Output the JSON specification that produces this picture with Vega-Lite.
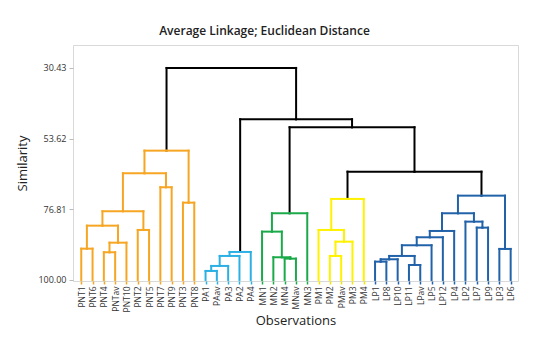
{
  "$schema": "https://vega.github.io/schema/vega-lite/v6.json",
  "width": 445,
  "height": 236,
  "autosize": "none",
  "padding": {"left": 73, "top": 45, "right": 32, "bottom": 72},
  "background": "white",
  "title": {"text": "Average Linkage; Euclidean Distance", "frame": "group", "anchor": "middle", "dx": -31, "offset": 7, "fontSize": 12, "font": "Open Sans", "fontWeight": 600, "color": "#222"},
  "config": {
    "view": {"stroke": "#d9d9d9", "strokeWidth": 1},
    "font": "Open Sans"
  },
  "data": {"values": [
    {"px": 2.5, "ph": 90.92, "cx": 2, "ch": 100, "c": "O"},
    {"px": 2.5, "ph": 90.92, "cx": 3, "ch": 100, "c": "O"},
    {"px": 0.5, "ph": 89.74, "cx": 0, "ch": 100, "c": "O"},
    {"px": 0.5, "ph": 89.74, "cx": 1, "ch": 100, "c": "O"},
    {"px": 3.25, "ph": 87.77, "cx": 2.5, "ch": 90.92, "c": "O"},
    {"px": 3.25, "ph": 87.77, "cx": 4, "ch": 100, "c": "O"},
    {"px": 5.5, "ph": 83.6, "cx": 5, "ch": 100, "c": "O"},
    {"px": 5.5, "ph": 83.6, "cx": 6, "ch": 100, "c": "O"},
    {"px": 1.875, "ph": 82.19, "cx": 0.5, "ch": 89.74, "c": "O"},
    {"px": 1.875, "ph": 82.19, "cx": 3.25, "ch": 87.77, "c": "O"},
    {"px": 3.6875, "ph": 77.46, "cx": 1.875, "ch": 82.19, "c": "O"},
    {"px": 3.6875, "ph": 77.46, "cx": 5.5, "ch": 83.6, "c": "O"},
    {"px": 7.5, "ph": 69.58, "cx": 7, "ch": 100, "c": "O"},
    {"px": 7.5, "ph": 69.58, "cx": 8, "ch": 100, "c": "O"},
    {"px": 9.5, "ph": 74.64, "cx": 9, "ch": 100, "c": "O"},
    {"px": 9.5, "ph": 74.64, "cx": 10, "ch": 100, "c": "O"},
    {"px": 5.594, "ph": 64.99, "cx": 3.6875, "ch": 77.46, "c": "O"},
    {"px": 5.594, "ph": 64.99, "cx": 7.5, "ch": 69.58, "c": "O"},
    {"px": 7.547, "ph": 57.57, "cx": 5.594, "ch": 64.99, "c": "O"},
    {"px": 7.547, "ph": 57.57, "cx": 9.5, "ch": 74.64, "c": "O"},
    {"px": 11.5, "ph": 97.05, "cx": 11, "ch": 100, "c": "C"},
    {"px": 11.5, "ph": 97.05, "cx": 12, "ch": 100, "c": "C"},
    {"px": 12.25, "ph": 95.41, "cx": 11.5, "ch": 97.05, "c": "C"},
    {"px": 12.25, "ph": 95.41, "cx": 13, "ch": 100, "c": "C"},
    {"px": 13.125, "ph": 92.13, "cx": 12.25, "ch": 95.41, "c": "C"},
    {"px": 13.125, "ph": 92.13, "cx": 14, "ch": 100, "c": "C"},
    {"px": 14.0625, "ph": 90.82, "cx": 13.125, "ch": 92.13, "c": "C"},
    {"px": 14.0625, "ph": 90.82, "cx": 15, "ch": 100, "c": "C"},
    {"px": 18.5, "ph": 93.01, "cx": 18, "ch": 100, "c": "G"},
    {"px": 18.5, "ph": 93.01, "cx": 19, "ch": 100, "c": "G"},
    {"px": 17.75, "ph": 92.56, "cx": 17, "ch": 100, "c": "G"},
    {"px": 17.75, "ph": 92.56, "cx": 18.5, "ch": 93.01, "c": "G"},
    {"px": 16.875, "ph": 84.15, "cx": 16, "ch": 100, "c": "G"},
    {"px": 16.875, "ph": 84.15, "cx": 17.75, "ch": 92.56, "c": "G"},
    {"px": 18.4375, "ph": 78.12, "cx": 16.875, "ch": 84.15, "c": "G"},
    {"px": 18.4375, "ph": 78.12, "cx": 20, "ch": 100, "c": "G"},
    {"px": 22.5, "ph": 92.13, "cx": 22, "ch": 100, "c": "Y"},
    {"px": 22.5, "ph": 92.13, "cx": 23, "ch": 100, "c": "Y"},
    {"px": 23.25, "ph": 87.44, "cx": 22.5, "ch": 92.13, "c": "Y"},
    {"px": 23.25, "ph": 87.44, "cx": 24, "ch": 100, "c": "Y"},
    {"px": 22.125, "ph": 83.6, "cx": 21, "ch": 100, "c": "Y"},
    {"px": 22.125, "ph": 83.6, "cx": 23.25, "ch": 87.44, "c": "Y"},
    {"px": 23.5625, "ph": 73.42, "cx": 22.125, "ch": 83.6, "c": "Y"},
    {"px": 23.5625, "ph": 73.42, "cx": 25, "ch": 100, "c": "Y"},
    {"px": 26.5, "ph": 94.0, "cx": 26, "ch": 100, "c": "B"},
    {"px": 26.5, "ph": 94.0, "cx": 27, "ch": 100, "c": "B"},
    {"px": 27.25, "ph": 93.22, "cx": 26.5, "ch": 94.0, "c": "B"},
    {"px": 27.25, "ph": 93.22, "cx": 28, "ch": 100, "c": "B"},
    {"px": 29.5, "ph": 95.09, "cx": 29, "ch": 100, "c": "B"},
    {"px": 29.5, "ph": 95.09, "cx": 30, "ch": 100, "c": "B"},
    {"px": 28.375, "ph": 92.13, "cx": 27.25, "ch": 93.22, "c": "B"},
    {"px": 28.375, "ph": 92.13, "cx": 29.5, "ch": 95.09, "c": "B"},
    {"px": 29.6875, "ph": 88.62, "cx": 28.375, "ch": 92.13, "c": "B"},
    {"px": 29.6875, "ph": 88.62, "cx": 31, "ch": 100, "c": "B"},
    {"px": 30.844, "ph": 86.0, "cx": 29.6875, "ch": 88.62, "c": "B"},
    {"px": 30.844, "ph": 86.0, "cx": 32, "ch": 100, "c": "B"},
    {"px": 31.922, "ph": 83.93, "cx": 30.844, "ch": 86.0, "c": "B"},
    {"px": 31.922, "ph": 83.93, "cx": 33, "ch": 100, "c": "B"},
    {"px": 35.5, "ph": 82.84, "cx": 35, "ch": 100, "c": "B"},
    {"px": 35.5, "ph": 82.84, "cx": 36, "ch": 100, "c": "B"},
    {"px": 34.75, "ph": 80.87, "cx": 34, "ch": 100, "c": "B"},
    {"px": 34.75, "ph": 80.87, "cx": 35.5, "ch": 82.84, "c": "B"},
    {"px": 33.336, "ph": 78.12, "cx": 31.922, "ch": 83.93, "c": "B"},
    {"px": 33.336, "ph": 78.12, "cx": 34.75, "ch": 80.87, "c": "B"},
    {"px": 37.5, "ph": 89.83, "cx": 37, "ch": 100, "c": "B"},
    {"px": 37.5, "ph": 89.83, "cx": 38, "ch": 100, "c": "B"},
    {"px": 35.418, "ph": 72.34, "cx": 33.336, "ch": 78.12, "c": "B"},
    {"px": 35.418, "ph": 72.34, "cx": 37.5, "ch": 89.83, "c": "B"},
    {"px": 29.49, "ph": 64.46, "cx": 23.5625, "ch": 73.42, "c": "K"},
    {"px": 29.49, "ph": 64.46, "cx": 35.418, "ch": 72.34, "c": "K"},
    {"px": 23.964, "ph": 49.89, "cx": 18.4375, "ch": 78.12, "c": "K"},
    {"px": 23.964, "ph": 49.89, "cx": 29.49, "ch": 64.46, "c": "K"},
    {"px": 19.013, "ph": 47.27, "cx": 14.0625, "ch": 90.82, "c": "K"},
    {"px": 19.013, "ph": 47.27, "cx": 23.964, "ch": 49.89, "c": "K"},
    {"px": 13.28, "ph": 30.43, "cx": 7.547, "ch": 57.57, "c": "K"},
    {"px": 13.28, "ph": 30.43, "cx": 19.013, "ch": 47.27, "c": "K"}
  ]},
  "encoding": {
    "x": {"field": "cx", "type": "quantitative",
      "scale": {"domain": [-0.73, 38.65], "nice": false, "zero": false},
      "axis": {
        "title": "Observations", "titleFontSize": 13, "titleFontWeight": "normal", "titleColor": "#222", "titlePadding": 3,
        "values": [0,1,2,3,4,5,6,7,8,9,10,11,12,13,14,15,16,17,18,19,20,21,22,23,24,25,26,27,28,29,30,31,32,33,34,35,36,37,38],
        "labelExpr": "['PNT1','PNT6','PNT4','PNTav','PNT10','PNT2','PNT5','PNT7','PNT9','PNT3','PNT8','PA1','PAav','PA3','PA2','PA4','MN1','MN2','MN4','MNav','MN3','PM1','PM2','PMav','PM3','PM4','LP1','LP8','LP10','LP11','LPav','LP5','LP12','LP4','LP2','LP7','LP9','LP3','LP6'][datum.value]",
        "labelAngle": -90, "labelFontSize": 8.5, "labelColor": "#333", "labelPadding": 2,
        "labelOverlap": false, "labelFlush": false, "labelBound": false,
        "domain": false, "grid": false, "tickSize": 3, "tickWidth": 1.5,
        "tickColor": {"expr": "datum.value <= 10 ? '#F6A623' : datum.value <= 15 ? '#2CB0E3' : datum.value <= 20 ? '#1BAA4A' : datum.value <= 25 ? '#F2E600' : '#2162A9'"}
      }
    },
    "y": {"field": "ch", "type": "quantitative",
      "scale": {"domain": [22.9, 100.35], "reverse": true, "nice": false, "zero": false},
      "axis": {
        "title": "Similarity", "titleFontSize": 13, "titleFontWeight": "normal", "titleColor": "#222", "titlePadding": 8,
        "values": [30.43, 53.62, 76.81, 100], "format": ".2f",
        "labelFontSize": 9, "labelColor": "#333", "labelPadding": 3,
        "domain": false, "grid": false, "tickSize": 4, "tickColor": "#bbb"
      }
    },
    "color": {"field": "c", "type": "nominal", "legend": null,
      "scale": {"domain": ["O", "C", "G", "Y", "B", "K"], "range": ["#F6A623", "#2CB0E3", "#1BAA4A", "#FFF200", "#2162A9", "#000000"]}}
  },
  "layer": [
    {"mark": {"type": "rule", "strokeWidth": 2, "strokeCap": "square"},
     "encoding": {"y2": {"field": "ph"}}},
    {"mark": {"type": "rule", "strokeWidth": 2, "strokeCap": "square"},
     "encoding": {"x2": {"field": "px"}, "y": {"field": "ph", "type": "quantitative"}}}
  ]
}
